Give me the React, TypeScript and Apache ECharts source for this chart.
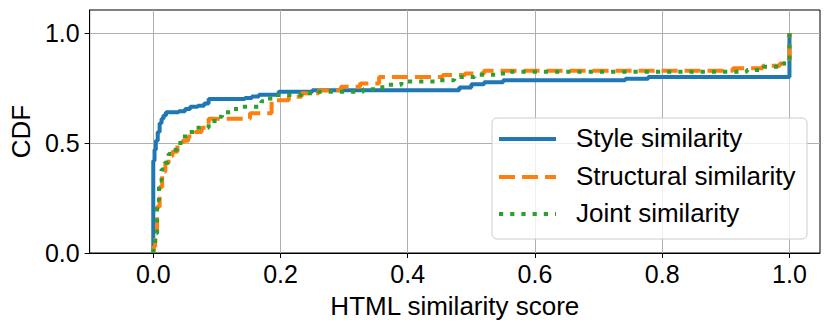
import React, { useEffect, useRef } from "react";
import * as echarts from "echarts";

// CDF data as [score, cdf] step points
const styleCdf: [number, number][] = [
  [0, 0], [0, 0.42], [0.002, 0.47], [0.004, 0.51], [0.007, 0.55], [0.01, 0.59],
  [0.013, 0.61], [0.016, 0.625], [0.02, 0.64], [0.04, 0.645], [0.05, 0.655],
  [0.058, 0.665], [0.07, 0.67], [0.08, 0.68], [0.087, 0.7], [0.144, 0.705],
  [0.155, 0.712], [0.166, 0.72], [0.197, 0.733], [0.25, 0.74], [0.481, 0.753],
  [0.5, 0.767], [0.52, 0.776], [0.55, 0.786], [0.742, 0.792], [0.778, 0.8],
  [1.0, 1.0],
];

const structuralCdf: [number, number][] = [
  [0, 0], [0.001, 0.03], [0.003, 0.09], [0.006, 0.21], [0.01, 0.3], [0.014, 0.37],
  [0.019, 0.41], [0.024, 0.44], [0.03, 0.46], [0.038, 0.49], [0.046, 0.51],
  [0.055, 0.53], [0.066, 0.55], [0.076, 0.57], [0.087, 0.61], [0.152, 0.635],
  [0.186, 0.695], [0.213, 0.71], [0.233, 0.726], [0.26, 0.74], [0.295, 0.756],
  [0.325, 0.771], [0.355, 0.8], [0.455, 0.809], [0.49, 0.816], [0.52, 0.829],
  [0.911, 0.84], [0.958, 0.851], [0.985, 0.862], [1.0, 1.0],
];

const jointCdf: [number, number][] = [
  [0, 0], [0.001, 0.04], [0.003, 0.09], [0.006, 0.24], [0.009, 0.33], [0.013, 0.38],
  [0.018, 0.41], [0.024, 0.45], [0.03, 0.47], [0.038, 0.5], [0.046, 0.53],
  [0.057, 0.55], [0.066, 0.57], [0.087, 0.6], [0.1, 0.62], [0.108, 0.64],
  [0.13, 0.665], [0.17, 0.69], [0.178, 0.703], [0.196, 0.718], [0.233, 0.726],
  [0.26, 0.733], [0.33, 0.745], [0.36, 0.765], [0.39, 0.78], [0.45, 0.786],
  [0.473, 0.8], [0.505, 0.81], [0.54, 0.816], [0.56, 0.824], [0.933, 0.832],
  [0.96, 0.847], [0.99, 0.862], [1.0, 1.0],
];

const seriesNames = ["Style similarity", "Structural similarity", "Joint similarity"];
const seriesColors = ["#1f77b4", "#ff7f0e", "#2ca02c"];
const xTicks = [0, 0.2, 0.4, 0.6, 0.8, 1.0];
const yTicks = [0, 0.5, 1.0];
const xTitle = "HTML similarity score";
const yTitle = "CDF";

const FONT = "Liberation Sans, Arial, Helvetica, sans-serif";

export default function App() {
  const ref = useRef<HTMLDivElement>(null);
  useEffect(() => {
    if (!ref.current) return;
    const chart = echarts.init(ref.current, undefined, { renderer: "svg" });
    const dashes: any[] = ["solid", [16, 7], [4.2, 7]];
    const datasets = [styleCdf, structuralCdf, jointCdf];
    const legendTop = 118;
    const legendLeft = 492;
    const rowY = [139, 177, 214];
    const legendGraphics: any[] = [
      {
        type: "rect",
        shape: { x: legendLeft, y: legendTop, width: 315, height: 121, r: 5 },
        style: { fill: "rgba(255,255,255,0.8)", stroke: "#cccccc", lineWidth: 1 },
        z: 100,
      },
    ];
    seriesNames.forEach((name, i) => {
      legendGraphics.push({
        type: "line",
        shape: { x1: 499, y1: rowY[i], x2: 556, y2: rowY[i] },
        style: {
          stroke: seriesColors[i],
          lineWidth: 4,
          lineDash: i === 0 ? null : dashes[i],
        },
        z: 101,
      });
      legendGraphics.push({
        type: "text",
        x: 576,
        y: rowY[i] - 1,
        style: {
          text: name,
          fontSize: 26,
          fontFamily: FONT,
          fill: "#000",
          verticalAlign: "middle",
          align: "left",
        },
        z: 101,
      });
    });

    chart.setOption({
      animation: false,
      backgroundColor: "#fff",
      grid: {
        left: 87,
        top: 10,
        width: 733,
        height: 243,
        show: true,
        borderColor: "#000",
        borderWidth: 1,
        backgroundColor: "transparent",
      },
      xAxis: {
        type: "value",
        min: -0.1,
        max: 1.048,
        name: xTitle,
        nameLocation: "middle",
        nameGap: 40,
        nameTextStyle: { fontSize: 26, fontFamily: FONT, color: "#000" },
        axisLine: { show: true, onZero: false, lineStyle: { color: "#000", width: 1 } },
        axisTick: {
          show: true,
          customValues: xTicks,
          length: 5,
          lineStyle: { color: "#000", width: 1 },
        },
        axisLabel: {
          customValues: xTicks,
          formatter: (v: number) => v.toFixed(1),
          fontSize: 25,
          fontFamily: FONT,
          color: "#000",
          margin: 8,
        },
        splitLine: { show: true, lineStyle: { color: "#b0b0b0", width: 1 } },
      },
      yAxis: {
        type: "value",
        min: 0,
        max: 1.105,
        name: yTitle,
        nameLocation: "middle",
        nameGap: 55,
        nameTextStyle: { fontSize: 26, fontFamily: FONT, color: "#000" },
        axisLine: { show: true, onZero: false, lineStyle: { color: "#000", width: 1 } },
        axisTick: {
          show: true,
          customValues: yTicks,
          length: 5,
          lineStyle: { color: "#000", width: 1 },
        },
        axisLabel: {
          customValues: yTicks,
          formatter: (v: number) => v.toFixed(1),
          fontSize: 25,
          fontFamily: FONT,
          color: "#000",
          margin: 10,
        },
        splitLine: { show: true, lineStyle: { color: "#b0b0b0", width: 1 } },
      },
      series: seriesNames.map((name, i) => ({
        name,
        type: "line",
        step: "end",
        symbol: "none",
        data: datasets[i],
        z: 2 + i,
        lineStyle: { color: seriesColors[i], width: 4, type: dashes[i], cap: "butt" },
      })),
      graphic: legendGraphics,
    });
    return () => chart.dispose();
  }, []);
  return (
    <div
      ref={ref}
      style={{ position: "fixed", left: 0, top: 0, width: 831, height: 329 }}
    />
  );
}
